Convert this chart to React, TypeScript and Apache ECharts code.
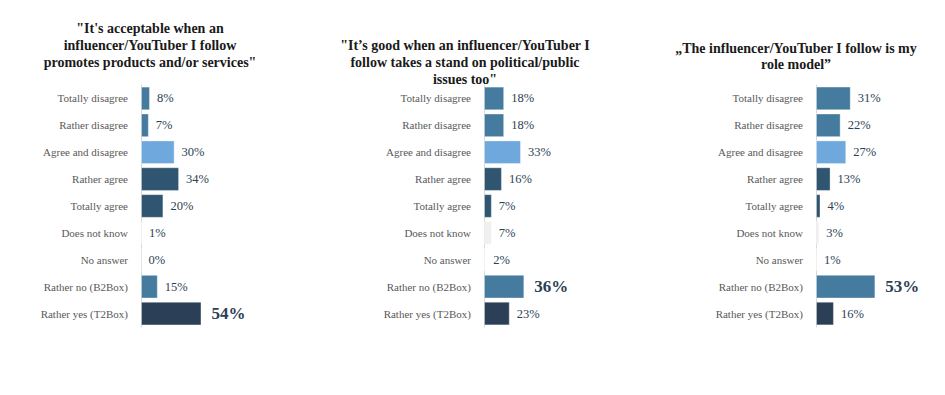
import React, { useEffect, useRef } from "react";
import * as echarts from "echarts";

const categories = [
  "Totally disagree",
  "Rather disagree",
  "Agree and disagree",
  "Rather agree",
  "Totally agree",
  "Does not know",
  "No answer",
  "Rather no (B2Box)",
  "Rather yes (T2Box)",
];

const titles = [
  "\"It's acceptable when an\ninfluencer/YouTuber I follow\npromotes products and/or services\"",
  "\"It\u2019s good when an influencer/YouTuber I\nfollow takes a stand on political/public\nissues too\"",
  "\u201eThe influencer/YouTuber I follow is my\nrole model\u201d",
];

const acceptableValues = [8, 7, 30, 34, 20, 1, 0, 15, 54];
const politicalValues = [18, 18, 33, 16, 7, 7, 2, 36, 23];
const roleModelValues = [31, 22, 27, 13, 4, 3, 1, 53, 16];

const barColors = [
  "#457b9f",
  "#457b9f",
  "#6fa8dc",
  "#2f5571",
  "#2f5571",
  "#f0f0f0",
  "#ffffff",
  "#457b9f",
  "#2b4057",
];

const FONT = "Liberation Serif";

export default function App() {
  const ref = useRef<HTMLDivElement>(null);

  useEffect(() => {
    if (!ref.current) return;
    const chart = echarts.init(ref.current, null, { renderer: "svg" });

    const panels = [
      { values: acceptableValues, left: 141, titleX: 150, titleTop: 20, lh: 17 },
      { values: politicalValues, left: 484, titleX: 465, titleTop: 37, lh: 17 },
      { values: roleModelValues, left: 816, titleX: 796, titleTop: 40, lh: 16 },
    ];

    const option: any = {
      animation: false,
      backgroundColor: "#ffffff",
      textStyle: { fontFamily: FONT },
      title: panels.map((p, i) => ({
        text: titles[i],
        left: p.titleX,
        top: p.titleTop,
        textAlign: "center",
        padding: 0,
        textStyle: {
          fontFamily: FONT,
          fontWeight: "bold",
          fontSize: 14,
          lineHeight: p.lh,
          color: "#1a1a1a",
        },
      })),
      grid: panels.map((p) => ({
        left: p.left,
        top: 85,
        width: 112,
        height: 242,
        containLabel: false,
      })),
      xAxis: panels.map((_, i) => ({
        type: "value",
        gridIndex: i,
        min: 0,
        max: 100,
        show: false,
      })),
      yAxis: panels.map((_, i) => ({
        type: "category",
        gridIndex: i,
        data: categories,
        inverse: true,
        axisLine: { show: true, lineStyle: { color: "#d9d9d9", width: 1 } },
        axisTick: { show: false },
        axisLabel: {
          margin: 13,
          color: "#595959",
          fontFamily: FONT,
          fontSize: 11,
        },
        splitLine: { show: false },
      })),
      series: panels.map((p, i) => {
        const maxVal = Math.max(...p.values);
        return {
          type: "bar",
          xAxisIndex: i,
          yAxisIndex: i,
          barCategoryGap: "12%",
          data: p.values.map((v, j) => {
            const item: any = {
              value: v,
              itemStyle: {
                color: barColors[j],
                borderColor: "rgba(255,255,255,0.35)",
                borderWidth: 1,
              },
            };
            if (v === maxVal) {
              item.label = { fontSize: 17, fontWeight: "bold", distance: 10 };
            }
            return item;
          }),
          label: {
            show: true,
            position: "right",
            distance: 7,
            formatter: "{c}%",
            color: "#2b3f55",
            fontFamily: FONT,
            fontSize: 12.5,
          },
        };
      }),
    };

    chart.setOption(option);
    return () => chart.dispose();
  }, []);

  return (
    <div
      ref={ref}
      style={{ position: "fixed", left: 0, top: 0, width: 945, height: 395 }}
    />
  );
}
